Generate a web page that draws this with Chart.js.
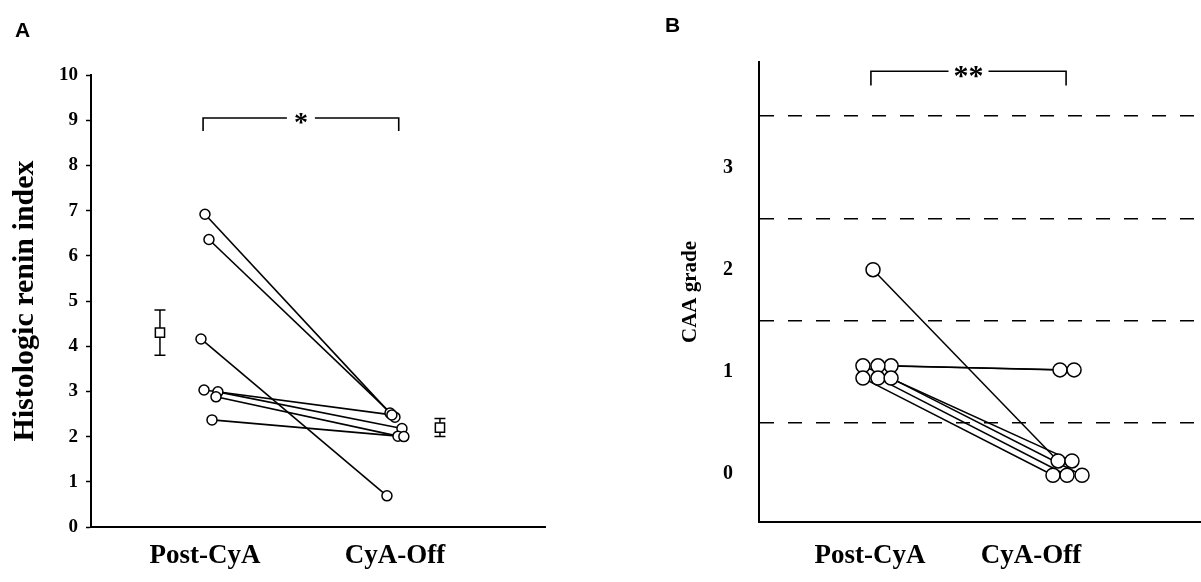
<!DOCTYPE html>
<html><head><meta charset="utf-8">
<script src="https://cdn.jsdelivr.net/npm/chart.js@4.4.1/dist/chart.umd.min.js"></script>
<style>
html,body{margin:0;padding:0;background:#fff;width:1201px;height:582px;overflow:hidden;}
#wrapA{position:absolute;left:0;top:0;width:600px;height:582px;}
#wrapB{position:absolute;left:600px;top:0;width:601px;height:582px;}
.panel{position:absolute;font:bold 21px "Liberation Sans",Arial,sans-serif;line-height:21px;color:#000;}
</style></head><body>
<div id="wrapA"><canvas id="cA" width="600" height="582"></canvas></div>
<div id="wrapB"><canvas id="cB" width="601" height="582"></canvas></div>
<div class="panel" style="left:15px;top:19px">A</div>
<div class="panel" style="left:665px;top:14px">B</div>
<script>
// ---------- data ----------
const groupLabels = ['Post-CyA', 'CyA-Off'];
const groupPosA = [1, 2];          // label positions, panel A
const groupPosB = [0.963, 1.81];   // label positions, panel B

// Panel A: histologic renin index (one entry per patient)
const reninPost  = [6.92, 6.36, 4.16, 3.03, 2.99, 2.88, 2.37];
const reninOff   = [2.52, 2.43, 0.69, 2.48, 2.18, 2.01, 2.00];
const reninPostX = [1.000, 1.021, 0.979, 0.995, 1.068, 1.058, 1.037];
const reninOffX  = [1.974, 2.000, 1.958, 1.984, 2.037, 2.016, 2.047];
const reninMean  = [4.3, 2.2];
const reninSE    = [0.5, 0.2];
const reninMeanX = [0.763, 2.237];
const reninTicks = [0, 1, 2, 3, 4, 5, 6, 7, 8, 9, 10];
const reninSig   = {from: 0.99, to: 2.02, y: 9.05, drop: 0.29, label: '*'};

// Panel B: CAA grade (one entry per patient)
const caaPost  = [2.00, 1.06, 1.06, 1.06, 0.94, 0.94, 0.94];
const caaOff   = [0.13, 1.02, 1.02, 0.13, -0.01, -0.01, -0.01];
const caaPostX = [0.979, 1.074, 1.005, 0.926, 0.926, 1.005, 1.074];
const caaOffX  = [1.953, 1.963, 2.037, 2.026, 1.926, 2.000, 2.079];
const caaTicks = [0, 1, 2, 3];
const caaGrid  = [0, 0.5, 1, 1.5, 2, 2.5, 3, 3.5];
const caaSig   = {from: 0.968, to: 1.995, y: 3.94, drop: 0.14, label: '**'};

// ---------- helpers ----------
const SERIF = '"Liberation Serif", "Times New Roman", serif';

function pairDatasets(pre, post, preX, postX, lw) {
  return pre.map((v, i) => ({
    data: [{x: preX[i], y: v}, {x: postX[i], y: post[i]}],
    showLine: true, borderColor: '#000', borderWidth: lw,
    pointRadius: 0, pointHoverRadius: 0, order: 3, fill: false
  }));
}
function pointsDataset(pre, post, preX, postX, r) {
  const data = pre.map((v, i) => ({x: preX[i], y: v}))
    .concat(post.map((v, i) => ({x: postX[i], y: v})));
  return {data, showLine: false, pointStyle: 'circle', pointRadius: r, pointHoverRadius: r,
    pointBorderWidth: 1.5, pointBackgroundColor: '#fff', pointBorderColor: '#000', order: 1};
}
function bracketPlugin(sig, fontSize, gapPad) {
  return {
    id: 'sigBracket',
    afterDatasetsDraw(chart) {
      const {ctx, scales: {x, y}} = chart;
      const x1 = x.getPixelForValue(sig.from), x2 = x.getPixelForValue(sig.to);
      const yt = y.getPixelForValue(sig.y), yb = y.getPixelForValue(sig.y - sig.drop);
      ctx.save();
      ctx.strokeStyle = '#000'; ctx.lineWidth = 1.6;
      ctx.beginPath();
      ctx.moveTo(x1, yb); ctx.lineTo(x1, yt); ctx.lineTo(x2, yt); ctx.lineTo(x2, yb);
      ctx.stroke();
      ctx.font = 'bold ' + fontSize + 'px ' + SERIF;
      const w = ctx.measureText(sig.label).width;
      const cx = (x1 + x2) / 2;
      ctx.fillStyle = '#fff';
      ctx.fillRect(cx - w / 2 - gapPad, yt - 3, w + 2 * gapPad, 6);
      ctx.fillStyle = '#000'; ctx.textAlign = 'center'; ctx.textBaseline = 'alphabetic';
      ctx.fillText(sig.label, cx, yt + fontSize * 0.47);
      ctx.restore();
    }
  };
}
const errorPlugin = {
  id: 'errBars',
  beforeDatasetsDraw(chart) {
    const {ctx, scales: {x, y}} = chart;
    ctx.save();
    ctx.strokeStyle = '#000'; ctx.lineWidth = 1.5;
    reninMean.forEach((m, i) => {
      const px = x.getPixelForValue(reninMeanX[i]);
      const yTop = y.getPixelForValue(m + reninSE[i]);
      const yBot = y.getPixelForValue(m - reninSE[i]);
      ctx.beginPath();
      ctx.moveTo(px, yTop); ctx.lineTo(px, yBot);
      ctx.moveTo(px - 5.5, yTop); ctx.lineTo(px + 5.5, yTop);
      ctx.moveTo(px - 5.5, yBot); ctx.lineTo(px + 5.5, yBot);
      ctx.stroke();
    });
    ctx.restore();
  }
};
function fixX(h) {
  return s => { s.height = h; s.paddingLeft = 0; s.paddingRight = 0; };
}

const common = {
  responsive: false, animation: false, devicePixelRatio: 1,
  events: [],
  plugins: {legend: {display: false}, tooltip: {enabled: false}}
};

// ---------- Panel A ----------
new Chart(document.getElementById('cA'), {
  type: 'scatter',
  data: {
    datasets: [
      ...pairDatasets(reninPost, reninOff, reninPostX, reninOffX, 1.6),
      pointsDataset(reninPost, reninOff, reninPostX, reninOffX, 5),
      {data: reninMean.map((v, i) => ({x: reninMeanX[i], y: v})), showLine: false,
       pointStyle: 'rect', pointRadius: 6.5, pointHoverRadius: 6.5, pointBorderWidth: 1.5,
       pointBackgroundColor: '#fff', pointBorderColor: '#000', order: 1}
    ]
  },
  options: {
    ...common,
    layout: {autoPadding: false, padding: {left: 0, right: 55, top: 75, bottom: 0}},
    scales: {
      x: {
        type: 'linear', min: 0.4, max: 2.79,
        afterBuildTicks: s => { s.ticks = groupPosA.map(v => ({value: v})); },
        ticks: {callback: (v, i) => groupLabels[i], autoSkip: false, maxRotation: 0,
          color: '#000', padding: 13, font: {family: SERIF, size: 27, weight: 'bold'}},
        grid: {display: false, drawTicks: false},
        border: {display: true, color: '#000', width: 2},
        afterFit: fixX(55)
      },
      y: {
        type: 'linear', min: 0, max: 10,
        afterBuildTicks: s => { s.ticks = reninTicks.map(v => ({value: v})); },
        ticks: {color: '#000', padding: 8, font: {family: SERIF, size: 19, weight: 'bold'}},
        grid: {drawOnChartArea: false, drawTicks: true, tickLength: 5, color: '#000', tickWidth: 1.5},
        border: {display: true, color: '#000', width: 2},
        title: {display: true, text: 'Histologic renin index', color: '#000',
          font: {family: SERIF, size: 30, weight: 'bold'}, padding: {top: 7, bottom: 0}},
        afterFit: s => { s.width = 91; }
      }
    }
  },
  plugins: [errorPlugin, bracketPlugin(reninSig, 28, 7)]
});

// ---------- Panel B ----------
new Chart(document.getElementById('cB'), {
  type: 'scatter',
  data: {
    datasets: [
      ...pairDatasets(caaPost, caaOff, caaPostX, caaOffX, 1.5),
      pointsDataset(caaPost, caaOff, caaPostX, caaOffX, 7)
    ]
  },
  options: {
    ...common,
    layout: {autoPadding: false, padding: {left: 0, right: 0, top: 62, bottom: 0}},
    scales: {
      x: {
        type: 'linear', min: 0.379, max: 2.705,
        afterBuildTicks: s => { s.ticks = groupPosB.map(v => ({value: v})); },
        ticks: {callback: (v, i) => groupLabels[i], autoSkip: false, maxRotation: 0,
          color: '#000', padding: 18, font: {family: SERIF, size: 27, weight: 'bold'}},
        grid: {display: false, drawTicks: false},
        border: {display: true, color: '#000', width: 2},
        afterFit: fixX(60)
      },
      y: {
        type: 'linear', min: -0.467, max: 4.03,
        afterBuildTicks: s => { s.ticks = caaGrid.map(v => ({value: v})); },
        ticks: {autoSkip: false, color: '#000', padding: 26,
          callback: v => caaTicks.includes(v) ? String(v) : '',
          font: {family: SERIF, size: 20, weight: 'bold'}},
        grid: {drawOnChartArea: true, drawTicks: false, lineWidth: 1.5,
          color: c => {
            const v = c.tick ? c.tick.value : NaN;
            return (Math.abs(v % 1) === 0.5) ? '#000' : 'rgba(0,0,0,0)';
          }},
        border: {display: true, color: '#000', width: 2, dash: [14, 14]},
        title: {display: true, text: 'CAA grade', color: '#000',
          font: {family: SERIF, size: 21, weight: 'bold'}, padding: {top: 78, bottom: 0}},
        afterFit: s => { s.width = 159; }
      }
    }
  },
  plugins: [bracketPlugin(caaSig, 30, 5)]
});
</script>
</body></html>
